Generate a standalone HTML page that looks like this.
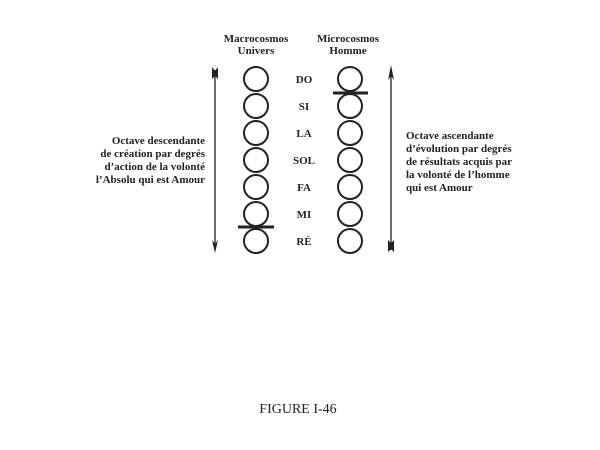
<!DOCTYPE html>
<html><head><meta charset="utf-8"><style>
html,body{margin:0;padding:0;background:#fff;}
svg{display:block}
text{font-family:"Liberation Serif",serif;fill:#222;}
.b{font-weight:bold;font-size:11px;}
</style></head><body>
<svg width="600" height="450" viewBox="0 0 600 450">
<g class="b" text-anchor="middle">
<text x="256" y="42">Macrocosmos</text>
<text x="256" y="54">Univers</text>
<text x="348" y="42">Microcosmos</text>
<text x="348" y="54">Homme</text>
<text x="304" y="83">DO</text>
<text x="304" y="110">SI</text>
<text x="304" y="137">LA</text>
<text x="304" y="164">SOL</text>
<text x="304" y="191">FA</text>
<text x="304" y="218">MI</text>
<text x="304" y="245">RÉ</text>
</g>
<g fill="none" stroke="#222" stroke-width="2">
<circle cx="256" cy="79" r="12"/><circle cx="256" cy="106" r="12"/><circle cx="256" cy="133" r="12"/><circle cx="256" cy="160" r="12"/><circle cx="256" cy="187" r="12"/><circle cx="256" cy="214" r="12"/><circle cx="256" cy="241" r="12"/>
<circle cx="350" cy="79" r="12"/><circle cx="350" cy="106" r="12"/><circle cx="350" cy="133" r="12"/><circle cx="350" cy="160" r="12"/><circle cx="350" cy="187" r="12"/><circle cx="350" cy="214" r="12"/><circle cx="350" cy="241" r="12"/>
</g>
<g stroke="#222" stroke-width="3">
<line x1="238" y1="227" x2="274" y2="227"/>
<line x1="333" y1="93" x2="368" y2="93"/>
</g>
<g stroke="#222" stroke-width="1.3">
<line x1="215" y1="70" x2="215" y2="245"/>
<line x1="391" y1="75" x2="391" y2="250"/>
</g>
<g fill="#222">
<polygon points="212,67 215,71 218,67 218,79 215,76 212,79"/>
<polygon points="212,240 215,244 218,240 215,253"/>
<polygon points="388,80 391,76 394,80 391,65"/>
<polygon points="388,240 391,243 394,240 394,252 391,249 388,252"/>
</g>
<g class="b" text-anchor="end">
<text x="205" y="144">Octave descendante</text>
<text x="205" y="157">de création par degrés</text>
<text x="205" y="170">d’action de la volonté</text>
<text x="205" y="183">l’Absolu qui est Amour</text>
</g>
<g class="b">
<text x="406" y="139">Octave ascendante</text>
<text x="406" y="152">d’évolution par degrés</text>
<text x="406" y="165">de résultats acquis par</text>
<text x="406" y="178">la volonté de l’homme</text>
<text x="406" y="191">qui est Amour</text>
</g>
<text x="298" y="413" text-anchor="middle" font-size="14">FIGURE I-46</text>
</svg>
</body></html>
